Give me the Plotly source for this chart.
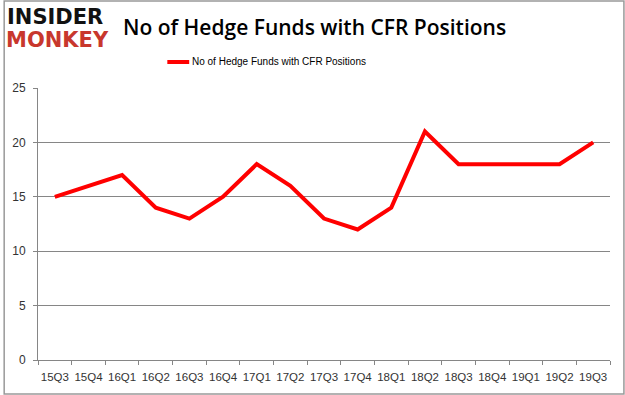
import plotly.graph_objects as go

quarters = ["15Q3","15Q4","16Q1","16Q2","16Q3","16Q4","17Q1","17Q2","17Q3","17Q4",
            "18Q1","18Q2","18Q3","18Q4","19Q1","19Q2","19Q3"]
funds = [15,16,17,14,13,15,18,16,13,12,14,21,18,18,18,18,20]
series_name = "No of Hedge Funds with CFR Positions"
y_ticks = [0,5,10,15,20,25]

W, H = 625, 395
L, R, T, B = 35, 15, 88, 35
PW, PH = W-L-R, H-T-B

def px(x):
    return (x-L)/PW

def py(y):
    return 1+(T-y)/PH

fig = go.Figure()
fig.add_trace(go.Scatter(x=quarters, y=funds, mode="lines", name=series_name,
                         line=dict(color="#ff0000", width=4), showlegend=False))

fig.update_layout(
    width=W, height=H,
    margin=dict(l=L, r=R, t=T, b=B),
    paper_bgcolor="white", plot_bgcolor="white",
    font=dict(family="Liberation Sans, Arial, sans-serif", color="#333333", size=11),
    xaxis=dict(type="category", range=[-0.5, len(quarters)-0.5], tickson="boundaries",
               ticks="outside", ticklen=4, tickcolor="#868686", showline=True,
               linecolor="#868686", linewidth=1, showgrid=False, tickangle=0,
               ticklabelstandoff=6,
               tickfont=dict(size=11.5, color="#333333")),
    yaxis=dict(range=[0,25], tickvals=y_ticks, ticks="outside", ticklen=4,
               tickcolor="#868686", showline=True, linecolor="#868686", linewidth=1,
               showgrid=True, gridcolor="#868686", gridwidth=1, zeroline=False,
               ticklabelstandoff=5,
               tickfont=dict(size=12, color="#333333")),
    shapes=[
        dict(type="rect", xref="paper", yref="paper",
             x0=px(1), x1=px(W-1), y0=py(H-1), y1=py(1),
             line=dict(color="#999999", width=1.5)),
        dict(type="line", xref="paper", yref="paper",
             x0=px(165), x1=px(187), y0=py(62), y1=py(62),
             line=dict(color="#ff0000", width=4)),
    ],
    annotations=[
        dict(text="No of Hedge Funds with CFR Positions", xref="paper", yref="paper",
             x=px(313), y=py(27), xanchor="center", yanchor="middle",
             showarrow=False, font=dict(size=21, color="#000000", weight=600,
                                        family="Open Sans, Liberation Sans, sans-serif")),
        dict(text=series_name, xref="paper", yref="paper",
             x=px(188), y=py(62), xanchor="left", yanchor="middle",
             showarrow=False, font=dict(size=10, color="#000000")),
        dict(text="<b>INSIDER</b>", xref="paper", yref="paper",
             x=px(2), y=py(17), xanchor="left", yanchor="middle",
             showarrow=False, font=dict(size=21, color="#111111",
                                        family="DejaVu Sans, sans-serif")),
        dict(text="<b>MONKEY</b>", xref="paper", yref="paper",
             x=px(1), y=py(40), xanchor="left", yanchor="middle",
             showarrow=False, font=dict(size=21, color="#c8372d",
                                        family="DejaVu Sans, sans-serif")),
    ],
)

fig.write_html("out.html", config={"displayModeBar": False},
               post_script="document.body.style.margin='0';document.body.style.padding='0';")
